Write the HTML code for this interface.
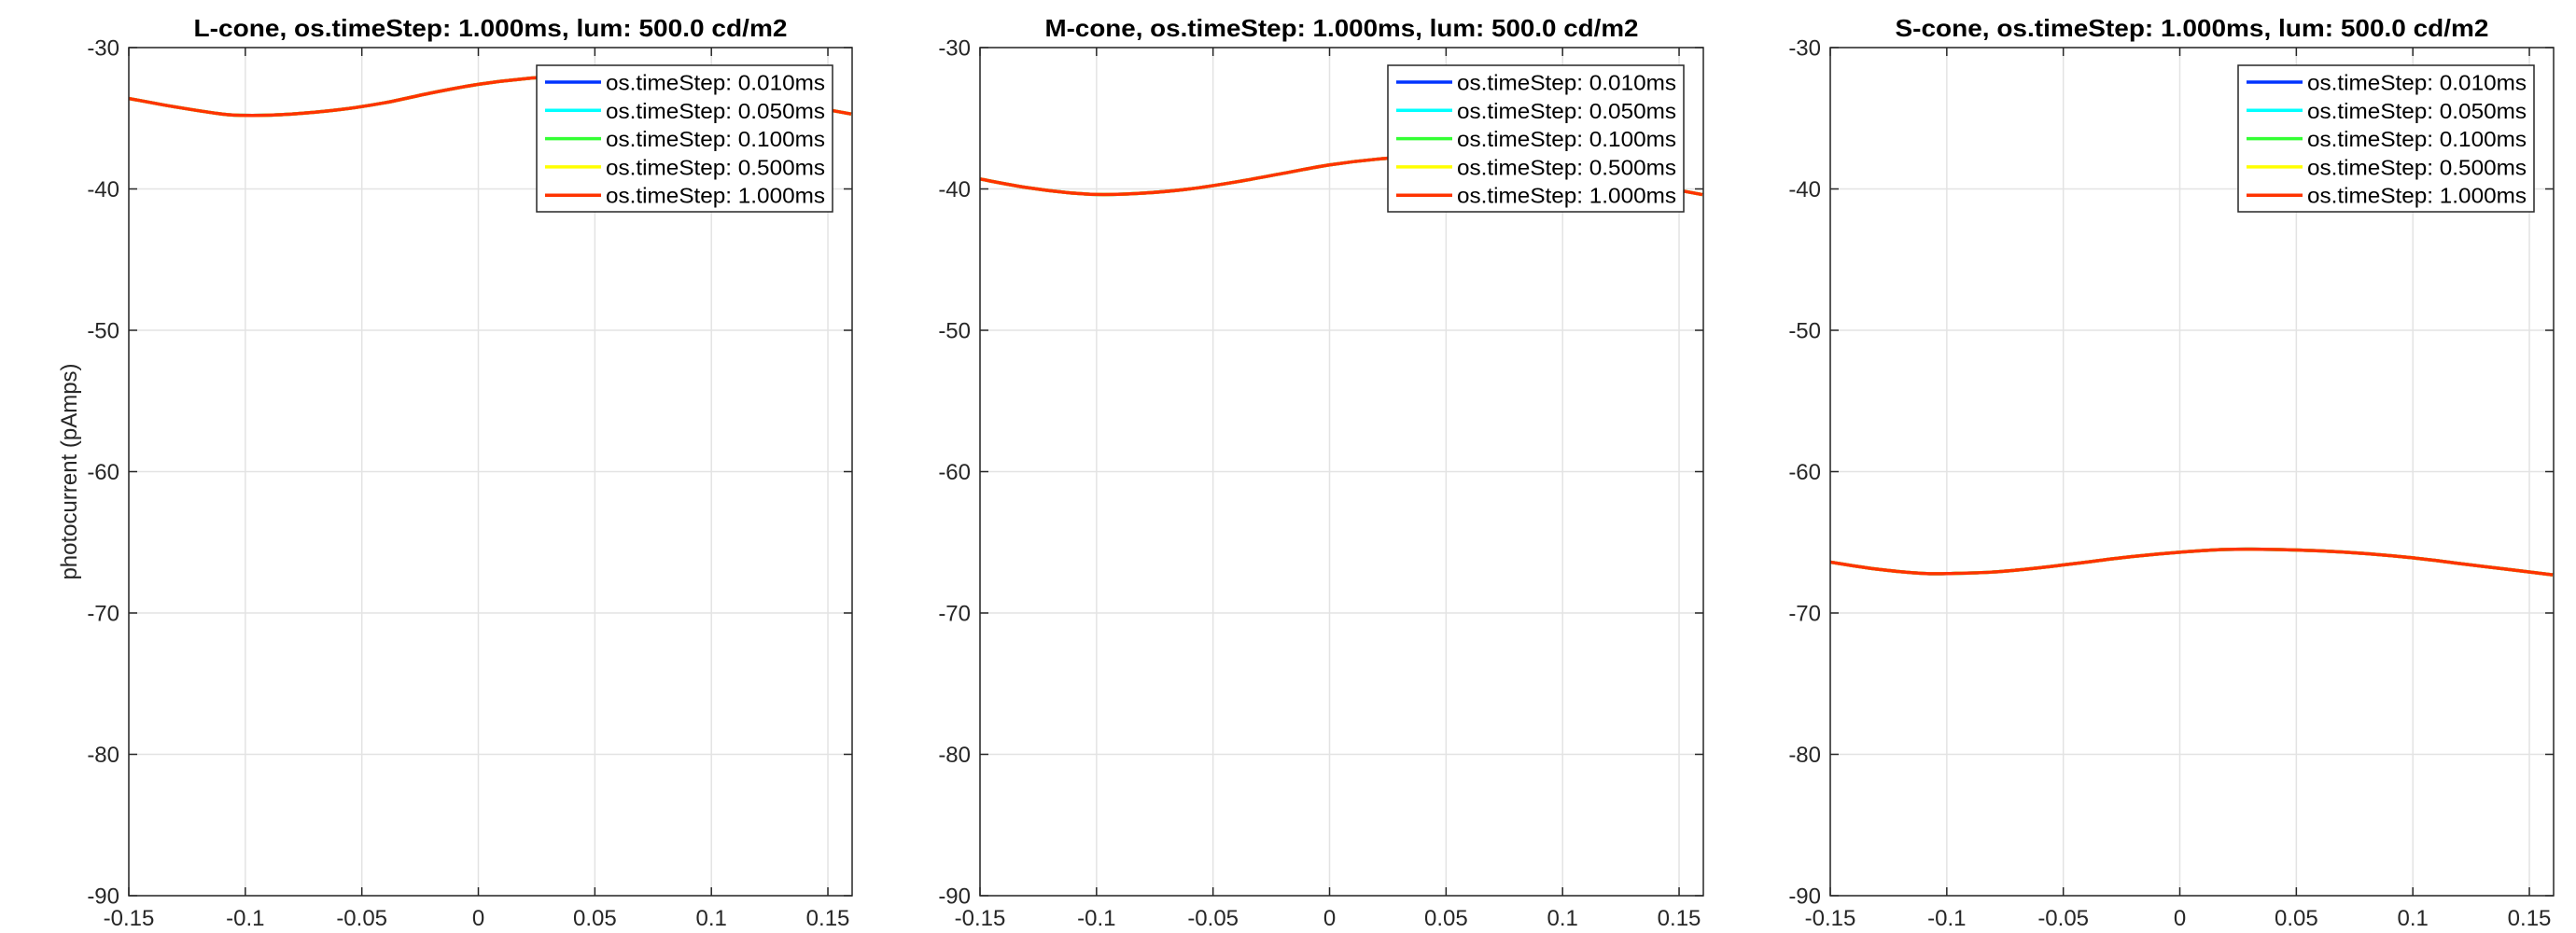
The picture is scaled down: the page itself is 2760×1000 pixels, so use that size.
<!DOCTYPE html>
<html><head><meta charset="utf-8"><style>
html,body{margin:0;padding:0;background:#fff}
svg{display:block;font-family:"Liberation Sans",Arial,sans-serif}
</style></head><body>
<svg id="fig" width="2760" height="1000" viewBox="0 0 2760 1000" xmlns="http://www.w3.org/2000/svg"></svg>
<script>
const xs = [-0.15,-0.13,-0.11,-0.097,-0.08,-0.06,-0.04,-0.02,0,0.02,0.04,0.06,0.08,0.10,0.12,0.14,0.16];
const lValues = [-33.6,-34.2,-34.7,-34.8,-34.7,-34.4,-33.9,-33.2,-32.6,-32.2,-32.0,-32.1,-32.4,-32.9,-33.5,-34.1,-34.7];
const mValues = [-39.3,-39.9,-40.3,-40.4,-40.3,-40.0,-39.5,-38.9,-38.3,-37.9,-37.7,-37.8,-38.1,-38.6,-39.2,-39.8,-40.4];
const sValues = [-66.4,-66.9,-67.2,-67.2,-67.1,-66.8,-66.4,-66.0,-65.7,-65.5,-65.5,-65.6,-65.8,-66.1,-66.5,-66.9,-67.3];
const xTicks = [-0.15,-0.1,-0.05,0,0.05,0.1,0.15];
const xTickLabels = ["-0.15","-0.1","-0.05","0","0.05","0.1","0.15"];
const yTicks = [-30,-40,-50,-60,-70,-80,-90];
const yTickLabels = ["-30","-40","-50","-60","-70","-80","-90"];
const seriesNames = ["os.timeStep: 0.010ms","os.timeStep: 0.050ms","os.timeStep: 0.100ms","os.timeStep: 0.500ms","os.timeStep: 1.000ms"];
const seriesColors = ["#0033ff","#00ffff","#33ff33","#ffff00","#ff3300"];
const titles = ["L-cone, os.timeStep: 1.000ms, lum: 500.0 cd/m2","M-cone, os.timeStep: 1.000ms, lum: 500.0 cd/m2","S-cone, os.timeStep: 1.000ms, lum: 500.0 cd/m2"];
const panelData = [lValues, mValues, sValues];

const NS="http://www.w3.org/2000/svg";
const svg=document.getElementById('fig');
function mk(tag,attrs,parent){const e=document.createElementNS(NS,tag);for(const k in attrs)e.setAttribute(k,attrs[k]);(parent||svg).appendChild(e);return e;}
const lefts=[138,1050,1961], W=775, plotTop=51, plotBottom=960;
const xMin=-0.15,xMax=0.1604,yMin=-90,yMax=-30;

lefts.forEach((L,p)=>{
  const g=mk('g',{});
  
  
  const sx=v=>L+(v-xMin)/(xMax-xMin)*W;
  const sy=v=>plotBottom-(v-yMin)/(yMax-yMin)*(plotBottom-plotTop);
  xTicks.forEach((t,i)=>{
    const gl=mk('line',{x1:sx(t),x2:sx(t),y1:plotTop,y2:plotBottom,stroke:'#e3e3e3','stroke-width':1.5},g);
    
    
  });
  yTicks.forEach((t,i)=>{
    const gl=mk('line',{x1:L,x2:L+W,y1:sy(t),y2:sy(t),stroke:'#e3e3e3','stroke-width':1.5},g);
    
    
  });
  const vals=panelData[p];
  const pts=xs.map((x,i)=>[sx(x),sy(vals[i])]);
  let d='M'+pts[0][0]+','+pts[0][1];
  for(let i=0;i<pts.length-1;i++){
    const p0=pts[Math.max(0,i-1)],p1=pts[i],p2=pts[i+1],p3=pts[Math.min(pts.length-1,i+2)];
    const c1=[p1[0]+(p2[0]-p0[0])/6,p1[1]+(p2[1]-p0[1])/6];
    const c2=[p2[0]-(p3[0]-p1[0])/6,p2[1]-(p3[1]-p1[1])/6];
    d+=' C'+c1+' '+c2+' '+p2;
  }
  const clip=mk('clipPath',{id:'clip'+p},g);
  mk('rect',{x:L,y:plotTop,width:W,height:plotBottom-plotTop},clip);
  seriesColors.forEach((c,k)=>{
    const path=mk('path',{d:d,fill:'none',stroke:c,'stroke-width':3.5,'clip-path':'url(#clip'+p+')'},g);
    
    
  });
  const box=mk('rect',{x:L,y:plotTop,width:W,height:plotBottom-plotTop,fill:'none',stroke:'#262626','stroke-width':1.5},g);
  
  
  xTicks.forEach((t,i)=>{
    mk('line',{x1:sx(t),x2:sx(t),y1:plotBottom,y2:plotBottom-9,stroke:'#262626','stroke-width':1.5},g);
    mk('line',{x1:sx(t),x2:sx(t),y1:plotTop,y2:plotTop+9,stroke:'#262626','stroke-width':1.5},g);
    const tx=mk('text',{x:sx(t),y:992,'text-anchor':'middle','font-size':24,fill:'#262626'},g);
    tx.textContent=xTickLabels[i];
    
    
  });
  yTicks.forEach((t,i)=>{
    mk('line',{x1:L,x2:L+9,y1:sy(t),y2:sy(t),stroke:'#262626','stroke-width':1.5},g);
    mk('line',{x1:L+W,x2:L+W-9,y1:sy(t),y2:sy(t),stroke:'#262626','stroke-width':1.5},g);
    const tx=mk('text',{x:L-10,y:sy(t)+8.5,'text-anchor':'end','font-size':24,fill:'#262626'},g);
    tx.textContent=yTickLabels[i];
    
    
  });
  const ti=mk('text',{x:L+W/2,y:39,'text-anchor':'middle','font-size':26,'font-weight':'bold',fill:'#000',textLength:636,lengthAdjust:'spacingAndGlyphs'},g);
  ti.textContent=titles[p];
  
  
  const lx=L+W-21-317, ly=70;
  const lg=mk('g',{},g);
  
  
  mk('rect',{x:lx,y:ly,width:317,height:157,fill:'#fff',stroke:'#262626','stroke-width':1.5},lg);
  seriesNames.forEach((n,k)=>{
    const yy=88+k*30.3;
    const e=mk('g',{},lg);
    
    
    mk('line',{x1:lx+9,x2:lx+69,y1:yy,y2:yy,stroke:seriesColors[k],'stroke-width':3.5},e);
    const tx=mk('text',{x:lx+74,y:yy+8.5,'font-size':23,fill:'#000',textLength:235,lengthAdjust:'spacingAndGlyphs'},e);
    tx.textContent=n;
  });
  if(p===0){
    const yl=mk('text',{x:0,y:0,'text-anchor':'middle','font-size':24,fill:'#262626',transform:'translate(82,'+((plotTop+plotBottom)/2)+') rotate(-90)'},g);
    yl.textContent='photocurrent (pAmps)';
    
    
  }
});
</script>
</body></html>
